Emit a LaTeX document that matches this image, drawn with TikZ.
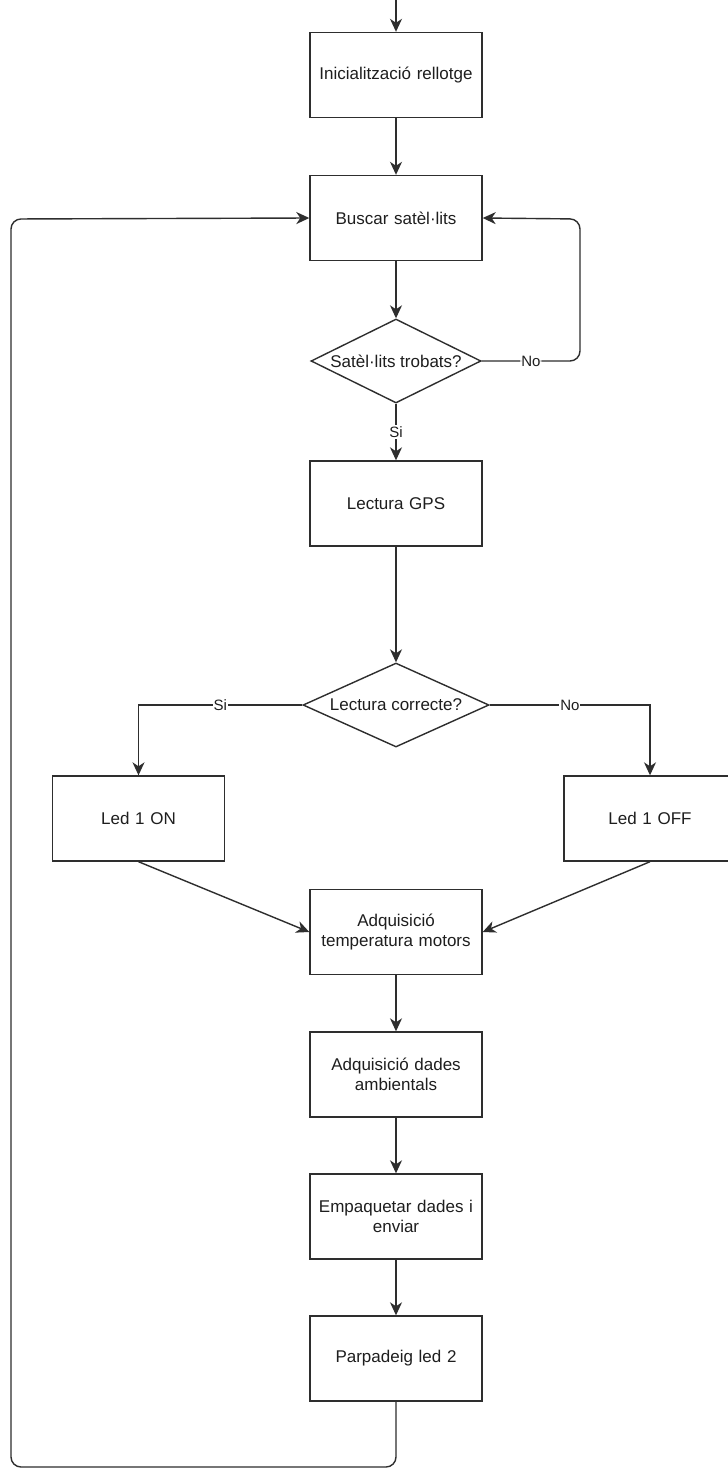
\documentclass[tikz,border=0pt]{standalone}
\usepackage{fontspec}
\setmainfont{Liberation Sans}
\usetikzlibrary{shapes.geometric,arrows.meta}
\definecolor{ln}{HTML}{2E2E2E}
\definecolor{tx}{HTML}{1E1E1E}
\tikzset{
  procbox/.style={draw=ln, line width=1.4pt, minimum width=172pt, minimum height=85pt,
    inner sep=0pt, text width=165pt, align=center, font=\fontsize{17}{20}\selectfont, text=tx},
  decbox/.style={draw=ln, line width=1.4pt, shape=diamond, inner sep=0pt},
  dectext/.style={font=\fontsize{17}{20}\selectfont, text=tx},
  lbl/.style={fill=white, inner sep=1pt, font=\fontsize{15}{18}\selectfont, text=tx},
  conn/.style={draw=ln, line width=1.4pt, -{Stealth[length=13pt,width=12pt,inset=4pt]}},
}
\begin{document}
\begin{tikzpicture}[x=1pt,y=-1pt]
\useasboundingbox (0,0) rectangle (728,1470);
\fill[white] (0,0) rectangle (728,1470);
\coordinate (top) at (396,0);
\node[procbox] (init) at (396,75) {Inicialització rellotge};
\node[procbox] (busc) at (396,218) {Buscar satèl·lits};
\node[decbox, minimum width=170pt, minimum height=84pt] (d1) at (396,361) {};
\node[dectext] (d1t) at (d1) {Satèl·lits trobats?};
\node[procbox] (gps) at (396,503.5) {Lectura GPS};
\node[decbox, minimum width=186pt, minimum height=84pt] (d2) at (396,705) {};
\node[dectext] (d2t) at (d2) {Lectura correcte?};
\node[procbox] (on) at (138.5,818.5) {Led 1 ON};
\node[procbox] (off) at (650,818.5) {Led 1 OFF};
\node[procbox] (temp) at (396,932) {Adquisició\\temperatura motors};
\node[procbox] (amb) at (396,1074.5) {Adquisició dades\\ambientals};
\node[procbox] (emp) at (396,1216.5) {Empaquetar dades i\\enviar};
\node[procbox] (par) at (396,1358.5) {Parpadeig led 2};

\draw[conn] (top) -- (init.north);
\draw[conn] (init.south) -- (busc.north);
\draw[conn] (busc.south) -- (d1.north);
\draw[conn, rounded corners=10pt] (d1.east) -- node[lbl] (no1) {No} (580,361) -- (580,219) -- (busc.east);
\draw[conn] (d1.south) -- node[lbl] (si1) {Si} (gps.north);
\draw[conn] (gps.south) -- (d2.north);
\draw[conn] (d2.west) -| node[lbl, pos=0.25] (si2) {Si} (on.north);
\draw[conn] (d2.east) -| node[lbl, pos=0.25] (no2) {No} (off.north);
\draw[conn] (on.south) -- (temp.west);
\draw[conn] (off.south) -- (temp.east);
\draw[conn] (temp.south) -- (amb.north);
\draw[conn] (amb.south) -- (emp.north);
\draw[conn] (emp.south) -- (par.north);
\draw[conn, rounded corners=10pt] (par.south) -- (396,1467) -- (11,1467) -- (11,219) -- (busc.west);
\end{tikzpicture}
\end{document}
